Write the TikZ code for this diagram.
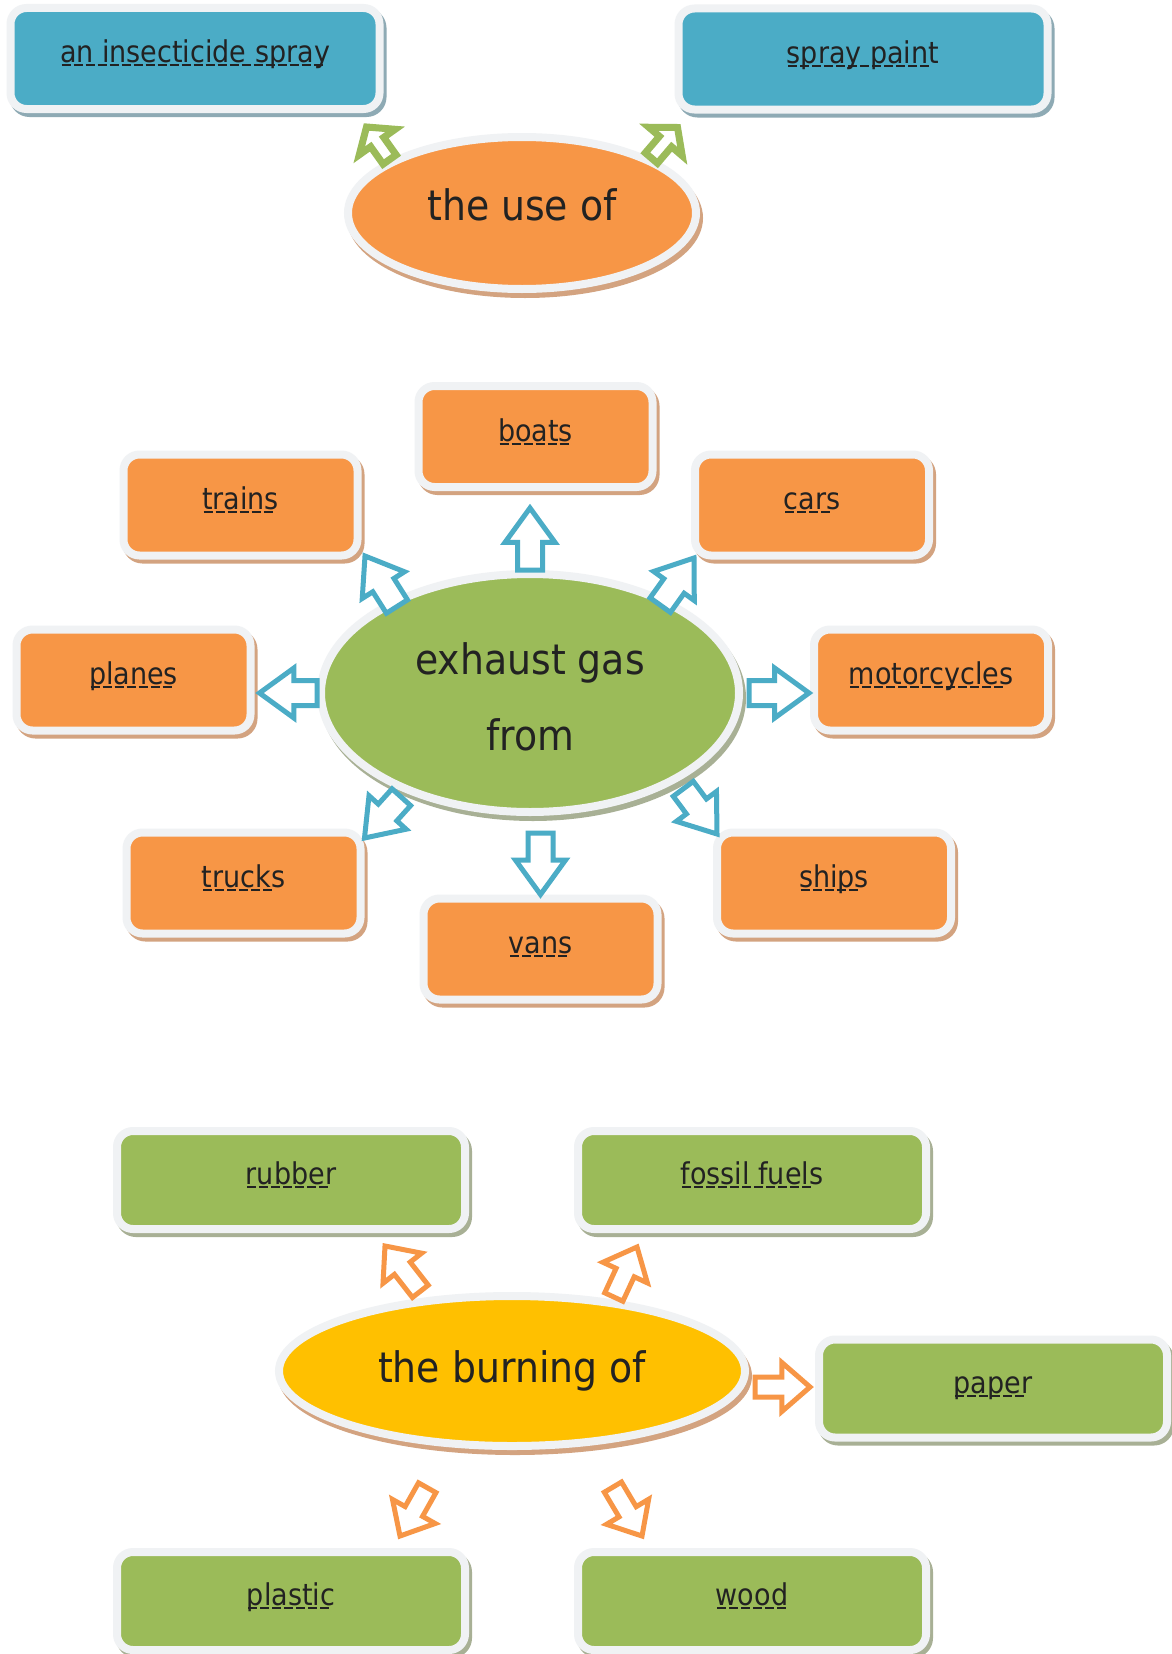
\documentclass[tikz,border=0pt]{standalone}
\usepackage{fontspec}
\setmainfont{DejaVu Sans}[FakeStretch=0.9]
\usetikzlibrary{shapes.geometric,shapes.arrows,calc}
\definecolor{cBlue}{HTML}{4BACC6}
\definecolor{cOrange}{HTML}{F79646}
\definecolor{cGreen}{HTML}{9BBB59}
\definecolor{cYellow}{HTML}{FFC000}
\definecolor{cBorder}{HTML}{F0F2F4}
\definecolor{cText}{HTML}{222222}
\definecolor{sBlue}{HTML}{8EAAB4}
\definecolor{sTan}{HTML}{D3A380}
\definecolor{sGreen}{HTML}{A8B095}
\newsavebox\dulbox
\newcommand\dul[1]{\sbox\dulbox{#1}\leavevmode\rlap{\raisebox{-3.5pt}{\hbox to \wd\dulbox{\leaders\hbox to 12pt{\hss\vrule height 2pt width 9pt\hss}\hfil}}}\usebox\dulbox}
\newcommand\barrow[3]{%
  \path let \p1=#2, \p2=#3,
    \n1={atan2(\y2-\y1,\x2-\x1)}, \n2={veclen(\x2-\x1,\y2-\y1)} in
    node[#1, rotate=\n1, minimum height=\n2, anchor=tip] at (\p2) {};}
\begin{document}
\begin{tikzpicture}[x=1pt,y=-1pt,
  boxshadow/.style={preaction={fill=#1, draw=#1, line width=8pt,
      transform canvas={xshift=3pt,yshift=-4pt}}},
  ellshadow/.style={preaction={fill=#1, draw=#1, line width=8pt,
      transform canvas={xshift=3pt,yshift=-5pt}}},
  box/.style={rectangle, rounded corners=16pt, draw=cBorder, line width=8pt,
      inner sep=0pt, text=cText, font=\fontsize{30}{34}\selectfont,
      text height=22pt, text depth=13pt},
  bluebox/.style={box, fill=cBlue, boxshadow=sBlue, minimum width=369, minimum height=101},
  orangebox/.style={box, fill=cOrange, boxshadow=sTan, minimum width=234, minimum height=101},
  greenbox/.style={box, fill=cGreen, boxshadow=sGreen, minimum width=348, minimum height=98},
  bigell/.style={ellipse, draw=cBorder, line width=8pt, inner sep=0pt, text=cText,
      font=\fontsize{42}{76}\selectfont, align=center},
  blockarrow/.style={single arrow, fill=white, inner xsep=0pt, outer sep=0pt, line join=miter},
  bluearrow/.style={blockarrow, draw=cBlue, line width=5pt, inner ysep=10pt,
      single arrow head extend=12.5pt, single arrow tip angle=72},
  greenarrow/.style={blockarrow, draw=cGreen, line width=7pt, inner ysep=4.5pt,
      single arrow head extend=14pt, single arrow tip angle=100},
  orangearrow/.style={blockarrow, draw=cOrange, line width=5pt, inner ysep=7.5pt,
      single arrow head extend=14.5pt, single arrow tip angle=82}]
\fill[white] (0,0) rectangle (1171,1654);
\useasboundingbox (0,0) rectangle (1171,1654);

% ---- top section
\node[bluebox] (ins) at (195,58.5) {\dul{an insecticide spray}};
\node[bluebox] (spray) at (863,59) {\dul{spray paint}};
\node[bigell, fill=cOrange, ellshadow=sTan, minimum width=348, minimum height=152,
      text depth=16pt] (use) at (522,213) {the use of};
\barrow{greenarrow}{(use.158.3)}{([xshift=-17pt,yshift=-14pt]ins.south east)}
\barrow{greenarrow}{(use.23.4)}{([xshift=3pt,yshift=-14pt]spray.south west)}

% ---- middle section
\node[orangebox] (boats) at (535.5,436.5) {\dul{boats}};
\node[orangebox] (trains) at (240.5,505) {\dul{trains}};
\node[orangebox] (cars) at (812,505) {\dul{cars}};
\node[orangebox] (planes) at (133.5,680) {\dul{planes}};
\node[orangebox] (motor) at (931,680) {\dul{motorcycles}};
\node[orangebox] (trucks) at (243.5,883) {\dul{trucks}};
\node[orangebox] (ships) at (834,883) {\dul{ships}};
\node[orangebox] (vans) at (540.5,949) {\dul{vans}};
\node[bigell, fill=cGreen, ellshadow=sGreen, minimum width=418, minimum height=238,
      text height=115pt, text depth=0pt] (ex) at (530,693) {exhaust gas\\from};
\barrow{bluearrow}{(ex.north)}{($(ex.north |- boats.south)+(0,17)$)}
\barrow{bluearrow}{($(ex.center)!.94!(ex.147.6)$)}{([xshift=3.5pt,yshift=3.5pt]trains.south east)}
\barrow{bluearrow}{($(ex.center)!.94!(ex.34.5)$)}{([xshift=3pt,yshift=1.5pt]cars.south west)}
\barrow{bluearrow}{(ex.west)}{($(ex.west -| planes.east)+(5,0)$)}
\barrow{bluearrow}{($(ex.east)+(6,0)$)}{($(ex.east -| motor.west)+(-1,0)$)}
\barrow{bluearrow}{($(ex.center)!1.04!(ex.219.7)$)}{([yshift=-9.5pt]trucks.north east)}
\barrow{bluearrow}{($(ex.south -| vans.north)+(0,17)$)}{(vans.north)}
\barrow{bluearrow}{($(ex.center)!1.06!(ex.-32.9)$)}{([xshift=4pt,yshift=-5.5pt]ships.north west)}

% ---- bottom section
\node[greenbox] (rubber) at (291,1180) {\dul{rubber}};
\node[greenbox] (fossil) at (752,1180) {\dul{fossil fuels}};
\node[greenbox] (paper) at (993,1388.5) {\dul{paper}};
\node[greenbox] (plastic) at (291,1601) {\dul{plastic}};
\node[greenbox] (wood) at (752,1601) {\dul{wood}};
\node[bigell, fill=cYellow, ellshadow=sTan, minimum width=466, minimum height=150]
      (burn) at (512,1371) {the burning of};
\barrow{orangearrow}{($(burn.center)!1.08!(burn.139.8)$)}{([xshift=94pt,yshift=-13pt]rubber.south)}
\barrow{orangearrow}{($(burn.center)!1.03!(burn.36.5)$)}{([xshift=63pt,yshift=-14pt]fossil.south west)}
\barrow{orangearrow}{($(burn.east)+(6,16)$)}{($(burn.east -| paper.west)+(-5,16)$)}
\barrow{orangearrow}{($(burn.center)!1.52!(burn.234.2)$)}{([xshift=109pt,yshift=12pt]plastic.north)}
\barrow{orangearrow}{($(burn.center)!1.53!(burn.-49.4)$)}{([xshift=-110pt,yshift=12pt]wood.north)}
\end{tikzpicture}
\end{document}
